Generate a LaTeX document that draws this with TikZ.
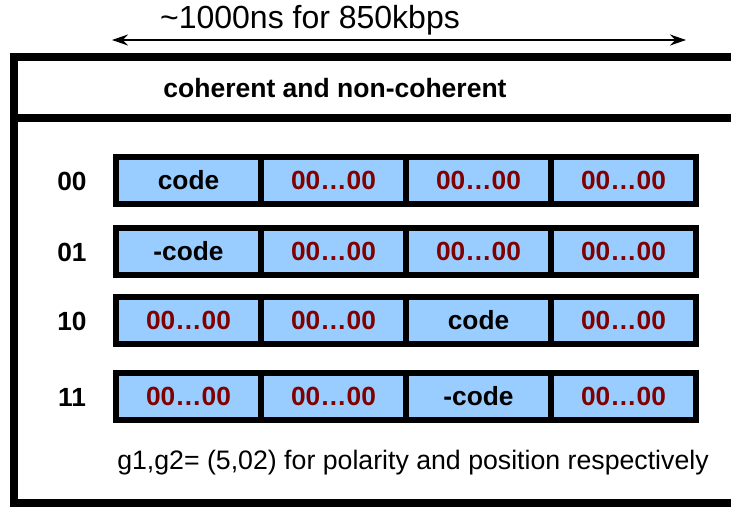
\documentclass[tikz,border=0pt]{standalone}
\usepackage{fontspec}
\setmainfont{Liberation Sans}
\usetikzlibrary{positioning,arrows.meta}
\definecolor{cellblue}{HTML}{99CCFF}
\definecolor{zerored}{HTML}{800000}
\tikzset{
  cell/.style={draw=black,fill=cellblue,line width=6pt,outer sep=0pt,inner sep=0pt,
    minimum width=145pt,minimum height=47pt,font=\fontsize{26.3}{29}\selectfont\bfseries},
  zeros/.style={cell,text=zerored},
  rowlabel/.style={font=\fontsize{26.3}{29}\selectfont\bfseries},
  frame/.style={line width=8pt,line cap=rect}
}
\begin{document}
\begin{tikzpicture}[x=1pt,y=-1pt]
\useasboundingbox (0,0) rectangle (731,507);
% outer frame, open on the right
\draw[frame] (740,57) -- (14,57) -- (14,503) -- (740,503);
\draw[frame] (14,118) -- (740,118);
% duration arrow
\node[font=\fontsize{32}{35}\selectfont] (dur) at (310,20) {\textasciitilde 1000ns for 850kbps};
\coordinate (durl) at (112,40);
\coordinate (durr) at (686,40);
\draw[line width=1.8pt,{Stealth[length=16pt,width=11pt]}-{Stealth[length=16pt,width=11pt]}] (durl) -- (durr);
\node[font=\fontsize{26.5}{29}\selectfont\bfseries] (head) at (335,88) {coherent and non-coherent};
% row 00
\node[rowlabel] (l00) at (72,181) {00};
\node[cell] (a1) at (188.5,180) {code};
\node[zeros,right=0pt of a1] (a2) {00…00};
\node[zeros,right=0pt of a2] (a3) {00…00};
\node[zeros,right=0pt of a3] (a4) {00…00};
% row 01
\node[rowlabel] (l01) at (72,252) {01};
\node[cell] (b1) at (188.5,251) {-code};
\node[zeros,right=0pt of b1] (b2) {00…00};
\node[zeros,right=0pt of b2] (b3) {00…00};
\node[zeros,right=0pt of b3] (b4) {00…00};
% row 10
\node[rowlabel] (l10) at (72,321) {10};
\node[zeros] (c1) at (188.5,320) {00…00};
\node[zeros,right=0pt of c1] (c2) {00…00};
\node[cell,right=0pt of c2] (c3) {code};
\node[zeros,right=0pt of c3] (c4) {00…00};
% row 11
\node[rowlabel] (l11) at (72,397) {11};
\node[zeros] (d1) at (188.5,396) {00…00};
\node[zeros,right=0pt of d1] (d2) {00…00};
\node[cell,right=0pt of d2] (d3) {-code};
\node[zeros,right=0pt of d3] (d4) {00…00};
\node[font=\fontsize{26.7}{29}\selectfont] (note) at (413,463) {g1,g2= (5,02) for polarity and position respectively};
\end{tikzpicture}
\end{document}
